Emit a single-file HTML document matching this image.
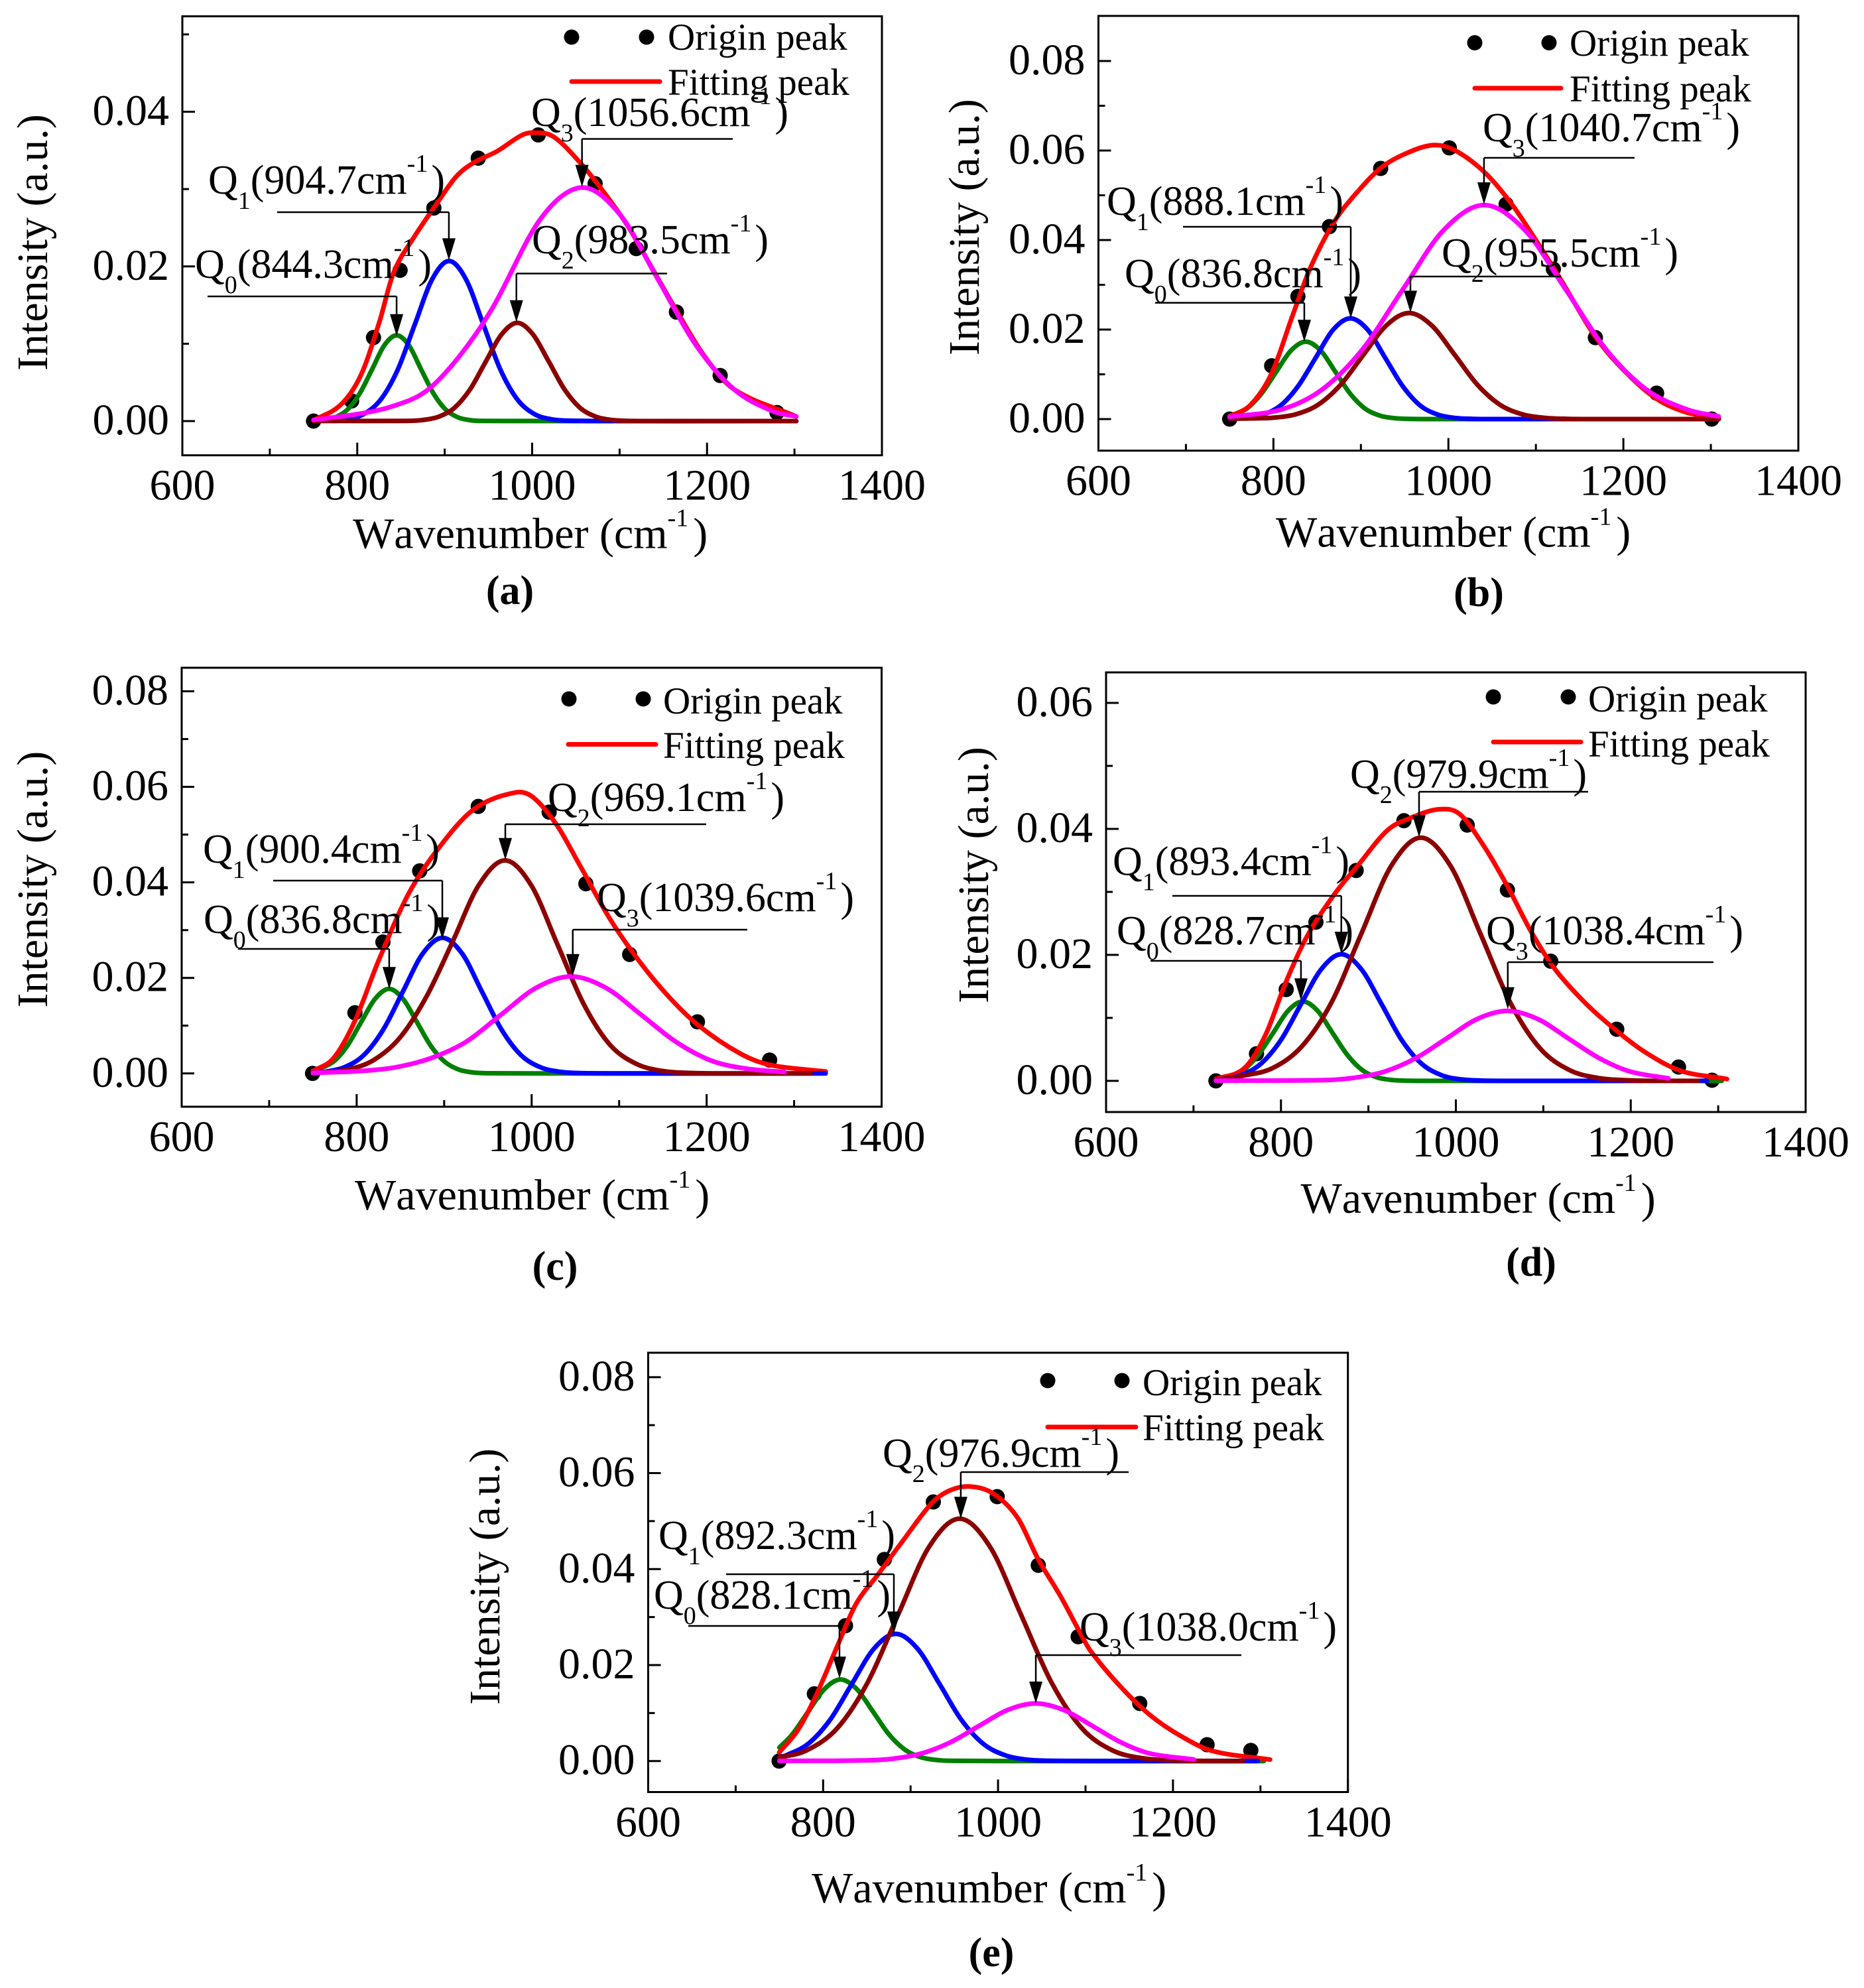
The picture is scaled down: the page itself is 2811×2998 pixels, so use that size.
<!DOCTYPE html>
<html lang="en">
<head>
<meta charset="utf-8">
<title>Raman peak fitting panels (a)-(e)</title>
<style>
  html, body { margin: 0; padding: 0; background: #ffffff; }
  svg { display: block; }
  text { font-family: "Liberation Serif", "Times New Roman", serif; fill: #000000; font-kerning: none; }
</style>
</head>
<body>
<svg id="figure" xmlns="http://www.w3.org/2000/svg" width="2811" height="2998" viewBox="0 0 2811 2998">
  <rect x="0" y="0" width="2811" height="2998" fill="#ffffff"></rect>
</svg>
<script>
/* ---------- shared axis values ---------- */
const xMajorTicks = [600, 800, 1000, 1200, 1400];
const xMinorTicks = [700, 900, 1100, 1300];
const yMajorLong = [0, 0.02, 0.04, 0.06, 0.08];
const yMinorLong = [0.01, 0.03, 0.05, 0.07];
const yMajorA = [0, 0.02, 0.04];
const yMinorA = [0.01, 0.03, 0.05];
const yMajorD = [0, 0.02, 0.04, 0.06];
const yMinorD = [0.01, 0.03, 0.05];

/* ---------- panel (a) ---------- */
const aOriginX = [750, 793.6, 818.6, 849, 887.6, 938.4, 1007, 1072, 1119, 1165, 1215, 1280];
const aOriginY = [0, 0.0026, 0.0108, 0.0195, 0.02755, 0.034, 0.037, 0.0307, 0.0223, 0.0141, 0.0059, 0.0011];
const aFitX = [750, 781, 804, 825, 841.6, 865, 889, 913, 933, 960, 987, 1000, 1024, 1055, 1082, 1109, 1136, 1166, 1197, 1231, 1302];
const aFitY = [0.0001, 0.0021, 0.0059, 0.0127, 0.0192, 0.0238, 0.0278, 0.0316, 0.0334, 0.0349, 0.0369, 0.0373, 0.0368, 0.0334, 0.0296, 0.0253, 0.02, 0.0141, 0.0084, 0.0041, 0.0006];
const aQ0X = [750, 761, 775, 789, 803, 817, 831, 845, 859, 873, 887, 901, 915, 929, 943, 1302];
const aQ0Y = [0.00003, 0.00012, 0.00049, 0.0015, 0.0036, 0.0067, 0.0098, 0.0111, 0.0098, 0.0067, 0.0036, 0.0015, 0.00049, 0.00012, 0.00002, 0];
const aQ1X = [750, 768, 788, 807.5, 827, 846.5, 866, 885.5, 905, 924.5, 944, 963.5, 983, 1002.5, 1022, 1041.5, 1100, 1302];
const aQ1Y = [0.00001, 0.00005, 0.00023, 0.00091, 0.0028, 0.0067, 0.01255, 0.0183, 0.0207, 0.0183, 0.01255, 0.0067, 0.0028, 0.00091, 0.00023, 0.00005, 0, 0];
const aQ2X = [750, 857, 875, 893, 911, 929, 947, 965, 983, 1001, 1019, 1037, 1055, 1073, 1091, 1109, 1150, 1302];
const aQ2Y = [0.00002, 0.00003, 0.00014, 0.00056, 0.0017, 0.0041, 0.0077, 0.0112, 0.0127, 0.0112, 0.0077, 0.0041, 0.0017, 0.00056, 0.00014, 0.00003, 0, 0];
const aQ3X = [750, 800, 840, 879, 917, 955, 1010, 1057, 1100.5, 1144, 1187.5, 1231, 1274.5, 1302];
const aQ3Y = [0.00015, 0.0009, 0.0019, 0.0039, 0.0084, 0.0147, 0.0262, 0.0302, 0.0267, 0.0183, 0.0098, 0.0041, 0.0013, 0.0006];
const aPeakLabels = ["844.3", "904.7", "983.5", "1056.6"];
const aArrowX = [845, 904.8, 982, 1057];
const aArrowY = [0.011, 0.0208, 0.0128, 0.0303];

/* ---------- panel (b) ---------- */
const bOriginX = [750, 798, 828, 864, 922.6, 1001, 1066, 1120, 1168, 1238, 1301];
const bOriginY = [0, 0.0119, 0.0274, 0.043, 0.056, 0.0606, 0.048, 0.0335, 0.0182, 0.0058, 0];
const bFitX = [750, 774, 798, 822, 842, 869.5, 897, 924, 951, 982, 1006, 1040, 1071, 1098, 1129, 1168, 1204, 1238, 1272, 1309];
const bFitY = [0.0006, 0.0032, 0.0102, 0.0232, 0.0337, 0.0441, 0.051, 0.0563, 0.0593, 0.0612, 0.0602, 0.0554, 0.0484, 0.0406, 0.031, 0.0184, 0.0102, 0.0045, 0.0015, 0.0003];
const bQ0X = [750, 769, 786, 803, 820, 837, 854, 871, 888, 905, 922, 939, 956, 1000, 1309];
const bQ0Y = [0.0007, 0.0023, 0.0056, 0.0105, 0.0153, 0.0173, 0.0153, 0.0105, 0.0056, 0.0023, 0.00076, 0.00019, 0.00004, 0, 0];
const bQ1X = [750, 768, 788, 808, 828, 848, 868, 888, 908, 928, 948, 968, 988, 1008, 1028, 1048, 1100, 1309];
const bQ1Y = [0.00006, 0.00025, 0.00099, 0.003, 0.0073, 0.0136, 0.0199, 0.0225, 0.0199, 0.0136, 0.0073, 0.003, 0.00099, 0.00025, 0.00005, 0, 0, 0];
const bQ2X = [750, 773, 799, 825, 851, 877, 903, 929, 955, 981, 1007, 1033, 1059, 1085, 1111, 1137, 1180, 1309];
const bQ2Y = [0.0001, 0.00015, 0.0003, 0.00104, 0.0032, 0.0077, 0.0144, 0.0209, 0.0237, 0.0209, 0.0144, 0.0077, 0.0032, 0.00104, 0.00026, 0.00005, 0, 0];
const bQ3X = [750, 808.5, 855, 901.5, 948, 994.5, 1041, 1087.5, 1134, 1180.5, 1227, 1273.5, 1309];
const bQ3Y = [0.0005, 0.0021, 0.0065, 0.0155, 0.029, 0.0422, 0.0478, 0.0422, 0.029, 0.0155, 0.0065, 0.0021, 0.0006];
const bPeakLabels = ["836.8", "888.1", "955.5", "1040.7"];
const bArrowX = [835.3, 888.4, 956.6, 1040.7];
const bArrowY = [0.0173, 0.0225, 0.0238, 0.048];

/* ---------- panel (c) ---------- */
const cOriginX = [749.6, 798, 830, 872, 939, 1020, 1062, 1112, 1189.5, 1272];
const cOriginY = [0, 0.0127, 0.0275, 0.0424, 0.0559, 0.0547, 0.0397, 0.0249, 0.0108, 0.0028];
const cFitX = [750, 773.6, 798, 825, 859, 893, 934, 981, 1001, 1028, 1055, 1089, 1123, 1157, 1191, 1238, 1272, 1336];
const cFitY = [0.0005, 0.0032, 0.011, 0.0236, 0.0375, 0.047, 0.0553, 0.0588, 0.0579, 0.0522, 0.0436, 0.0325, 0.0235, 0.016, 0.01, 0.0042, 0.0018, 0.0004];
const cQ0X = [750, 773, 789, 805, 821, 837, 853, 869, 885, 901, 917, 933, 949, 1000, 1200];
const cQ0Y = [0.0005, 0.0024, 0.0057, 0.0107, 0.0156, 0.0177, 0.0156, 0.0107, 0.0057, 0.0024, 0.00078, 0.0002, 0.00004, 0, 0];
const cQ1X = [750, 763, 785.5, 808, 830.5, 853, 875.5, 898, 920.5, 943, 965.5, 988, 1010.5, 1033, 1055.5, 1100, 1336];
const cQ1Y = [0.00013, 0.00032, 0.00125, 0.0038, 0.0092, 0.0172, 0.0251, 0.0284, 0.0251, 0.0172, 0.0092, 0.0038, 0.00125, 0.00032, 0.00006, 0, 0];
const cQ2X = [750, 789.5, 819.5, 849.5, 879.5, 909.5, 939.5, 969.5, 999.5, 1029.5, 1059.5, 1089.5, 1119.5, 1149.5, 1179.5, 1220, 1319];
const cQ2Y = [0.00005, 0.0008, 0.0028, 0.0075, 0.016, 0.0275, 0.0394, 0.0446, 0.0394, 0.027, 0.0145, 0.006, 0.002, 0.0005, 0.0001, 0, 0];
const cQ3X = [750, 805, 845, 885, 925, 965, 1005, 1045, 1085, 1125, 1165, 1205, 1245, 1289];
const cQ3Y = [0.0001, 0.0005, 0.0013, 0.0032, 0.0066, 0.0123, 0.0179, 0.0203, 0.0179, 0.0123, 0.0066, 0.0027, 0.001, 0.0003];
const cPeakLabels = ["836.8", "900.4", "969.1", "1039.6"];
const cArrowX = [837.2, 897.9, 969.9, 1047];
const cArrowY = [0.0177, 0.0281, 0.0447, 0.0204];

/* ---------- panel (d) ---------- */
const dOriginX = [725.6, 772, 806, 840, 886, 940.6, 1013, 1059, 1108.5, 1184, 1254.6, 1293];
const dOriginY = [0, 0.0043, 0.0145, 0.0252, 0.0334, 0.0413, 0.0406, 0.0303, 0.019, 0.0082, 0.0022, 0.0001];
const dFitX = [725.6, 758, 782, 806, 830, 861, 888, 922, 949.5, 980, 1004, 1031, 1059, 1086, 1113, 1147, 1181.6, 1216, 1257, 1310];
const dFitY = [0.0003, 0.002, 0.0072, 0.0158, 0.023, 0.0296, 0.0342, 0.0398, 0.0418, 0.0431, 0.0424, 0.0375, 0.0309, 0.0237, 0.0178, 0.0125, 0.0082, 0.0046, 0.0016, 0.0003];
const dQ0X = [725.6, 740, 757, 774, 791, 808, 825, 842, 859, 876, 893, 910, 927, 944, 1000, 1304];
const dQ0Y = [0.00018, 0.00055, 0.0017, 0.0041, 0.0076, 0.0111, 0.0126, 0.0111, 0.0076, 0.0041, 0.0017, 0.00055, 0.00014, 0.00003, 0, 0];
const dQ1X = [725.6, 754, 777, 800, 823, 846, 869, 892, 915, 938, 961, 984, 1007, 1030, 1080, 1287];
const dQ1Y = [0.00015, 0.00088, 0.0027, 0.0065, 0.0122, 0.0177, 0.0201, 0.0177, 0.0122, 0.0065, 0.0027, 0.00088, 0.00022, 0.00004, 0, 0];
const dQ2X = [725.6, 756, 790, 824, 858, 892, 926, 960, 994, 1028, 1062, 1096, 1130, 1164, 1198, 1240, 1277];
const dQ2Y = [0.0001, 0.0008, 0.002, 0.0055, 0.0125, 0.0234, 0.0341, 0.0386, 0.0341, 0.0234, 0.0125, 0.0052, 0.0017, 0.00043, 0.00008, 0, 0];
const dQ3X = [725.6, 849, 884, 919, 954, 989, 1024, 1059, 1094, 1129, 1164, 1199, 1243];
const dQ3Y = [0.00002, 0.00012, 0.0005, 0.0015, 0.0036, 0.0067, 0.0098, 0.0111, 0.0098, 0.0067, 0.0036, 0.0015, 0.0004];
const dPeakLabels = ["828.7", "893.4", "979.9", "1038.4"];
const dArrowX = [822.9, 869, 957.9, 1059.4];
const dArrowY = [0.0128, 0.0202, 0.0387, 0.0114];

/* ---------- panel (e) ---------- */
const eOriginX = [749.7, 790, 825.6, 870, 926, 999, 1046, 1091.6, 1162, 1239, 1289];
const eOriginY = [0, 0.014, 0.0282, 0.042, 0.054, 0.0551, 0.0408, 0.0259, 0.012, 0.0034, 0.0022];
const eFitX = [749.7, 771, 792, 816.6, 837.5, 862, 890, 924.5, 945, 967.7, 994, 1022, 1046, 1071, 1091.6, 1105.6, 1140, 1175, 1210, 1245, 1311];
const eFitY = [0.0018, 0.0064, 0.0137, 0.0241, 0.0327, 0.0387, 0.0456, 0.0538, 0.0564, 0.0572, 0.0558, 0.0508, 0.042, 0.0345, 0.0275, 0.023, 0.0155, 0.0094, 0.0051, 0.0021, 0.0003];
const eQ0X = [750, 764.5, 783, 801.5, 820, 838.5, 857, 875.5, 894, 912.5, 931, 949.5, 1000, 1304];
const eQ0Y = [0.0028, 0.0055, 0.0103, 0.015, 0.017, 0.015, 0.0103, 0.0055, 0.0023, 0.00075, 0.00019, 0.00004, 0, 0];
const eQ1X = [750, 758, 783, 808, 833, 858, 883, 908, 933, 958, 983, 1008, 1033, 1058, 1110, 1297];
const eQ1Y = [0.0008, 0.0012, 0.0036, 0.0086, 0.0161, 0.0234, 0.0265, 0.0234, 0.0161, 0.0086, 0.0036, 0.0012, 0.00029, 0.00006, 0, 0];
const eQ2X = [750, 781, 816, 851, 886, 921, 956, 991, 1026, 1061, 1096, 1131, 1166, 1201, 1240, 1280];
const eQ2Y = [0.0007, 0.0022, 0.0068, 0.0164, 0.0306, 0.0446, 0.0505, 0.0446, 0.0306, 0.0164, 0.0068, 0.0022, 0.00056, 0.00011, 0, 0];
const eQ3X = [750, 848, 880.5, 913, 945.5, 978, 1010.5, 1043, 1075.5, 1108, 1140.5, 1173, 1224];
const eQ3Y = [0.00003, 0.00013, 0.0005, 0.0016, 0.0039, 0.0073, 0.0106, 0.012, 0.0106, 0.0073, 0.0039, 0.0016, 0.0003];
const ePeakLabels = ["828.1", "892.3", "976.9", "1038.0"];
const eArrowX = [818.7, 880.9, 957.4, 1043.2];
const eArrowY = [0.0172, 0.0266, 0.0505, 0.012];

/* ---------- page layout for every panel ---------- */
const layouts = [
  { id: "a", caption: "(a)", L: 275, R: 1330, T: 24.6, B: 686.6, zeroY: 635, perUnit: 11662,
    yMajor: yMajorA, yMinor: yMinorA,
    originX: aOriginX, originY: aOriginY, fitX: aFitX, fitY: aFitY,
    q: [[aQ0X, aQ0Y], [aQ1X, aQ1Y], [aQ2X, aQ2Y], [aQ3X, aQ3Y]],
    peaks: aPeakLabels, arrowX: aArrowX, arrowY: aArrowY,
    yTitle: [71, 559], xTitle: [532, 826.5], cap: [769, 911],
    leg: { d1: 862, d2: 975, dy: 56, tx: 1007, t1: 75, t2: 143, l1: 862, l2: 995, ly: 123 },
    notes: [ { tx: 294, ty: 419, x1: 313, ly: 447 }, { tx: 314, ty: 292, x1: 418, ly: 320 },
             { tx: 802, ty: 382, x2: 1006, ly: 412.5 }, { tx: 801, ty: 190, x2: 1105, ly: 209.5 } ] },
  { id: "b", caption: "(b)", L: 1656.5, R: 2712, T: 24, B: 679.6, zeroY: 632, perUnit: 6750,
    yMajor: yMajorLong, yMinor: yMinorLong,
    originX: bOriginX, originY: bOriginY, fitX: bFitX, fitY: bFitY,
    q: [[bQ0X, bQ0Y], [bQ1X, bQ1Y], [bQ2X, bQ2Y], [bQ3X, bQ3Y]],
    peaks: bPeakLabels, arrowX: bArrowX, arrowY: bArrowY,
    yTitle: [1476, 536], xTitle: [1924, 824.5], cap: [2230, 914],
    leg: { d1: 2224, d2: 2336, dy: 64.5, tx: 2367, t1: 84, t2: 153, l1: 2224, l2: 2354, ly: 133 },
    notes: [ { tx: 1696, ty: 433, x1: 1742, ly: 456.6 }, { tx: 1669, ty: 324, x1: 1784, ly: 342 },
             { tx: 2174, ty: 402, x2: 2354, ly: 417 }, { tx: 2236, ty: 213, x2: 2465, ly: 238 } ] },
  { id: "c", caption: "(c)", L: 274, R: 1329.5, T: 1007, B: 1669, zeroY: 1618.75, perUnit: 7203,
    yMajor: yMajorLong, yMinor: yMinorLong,
    originX: cOriginX, originY: cOriginY, fitX: cFitX, fitY: cFitY,
    q: [[cQ0X, cQ0Y], [cQ1X, cQ1Y], [cQ2X, cQ2Y], [cQ3X, cQ3Y]],
    peaks: cPeakLabels, arrowX: cArrowX, arrowY: cArrowY,
    yTitle: [71, 1519.5], xTitle: [535, 1824], cap: [837, 1930],
    leg: { d1: 858, d2: 970, dy: 1054, tx: 1000, t1: 1076, t2: 1143, l1: 857, l2: 989, ly: 1122.5 },
    notes: [ { tx: 307, ty: 1407, x1: 359, ly: 1431 }, { tx: 306, ty: 1301, x1: 412, ly: 1328 },
             { tx: 826, ty: 1223, x2: 1065, ly: 1243 }, { tx: 900, ty: 1374, x2: 1127, ly: 1402 } ] },
  { id: "d", caption: "(d)", L: 1668, R: 2723, T: 1014, B: 1677, zeroY: 1630, perUnit: 9500,
    yMajor: yMajorD, yMinor: yMinorD,
    originX: dOriginX, originY: dOriginY, fitX: dFitX, fitY: dFitY,
    q: [[dQ0X, dQ0Y], [dQ1X, dQ1Y], [dQ2X, dQ2Y], [dQ3X, dQ3Y]],
    peaks: dPeakLabels, arrowX: dArrowX, arrowY: dArrowY,
    yTitle: [1490, 1513], xTitle: [1961.5, 1829], cap: [2309, 1924],
    leg: { d1: 2252, d2: 2365, dy: 1051, tx: 2395, t1: 1073, t2: 1141, l1: 2252, l2: 2384, ly: 1119 },
    notes: [ { tx: 1684, ty: 1424, x1: 1735, ly: 1449 }, { tx: 1678, ty: 1319.5, x1: 1768, ly: 1351 },
             { tx: 2036, ty: 1188, x2: 2395, ly: 1194 }, { tx: 2241, ty: 1424, x2: 2584, ly: 1451 } ] },
  { id: "e", caption: "(e)", L: 977.5, R: 2032.7, T: 2040, B: 2702.5, zeroY: 2655.7, perUnit: 7236,
    yMajor: yMajorLong, yMinor: yMinorLong,
    originX: eOriginX, originY: eOriginY, fitX: eFitX, fitY: eFitY,
    q: [[eQ0X, eQ0Y], [eQ1X, eQ1Y], [eQ2X, eQ2Y], [eQ3X, eQ3Y]],
    peaks: ePeakLabels, arrowX: eArrowX, arrowY: eArrowY,
    yTitle: [753, 2571], xTitle: [1224, 2869], cap: [1495, 2965],
    leg: { d1: 1580, d2: 1692, dy: 2082, tx: 1723, t1: 2104, t2: 2172, l1: 1580, l2: 1713, ly: 2152 },
    notes: [ { tx: 986, ty: 2426, x1: 1038, ly: 2452 }, { tx: 993, ty: 2336, x1: 1095, ly: 2374 },
             { tx: 1331, ty: 2212, x2: 1702, ly: 2220 }, { tx: 1628, ty: 2474, x2: 1872, ly: 2496 } ] }
];

const SVG_NS = "http://www.w3.org/2000/svg";
const root = document.getElementById("figure");
const qColors = ["#007f00", "#0000ff", "#8b0000", "#ff00ff"];
const qNames = ["q0", "q1", "q2", "q3"];

function make(tag, attrs, parent, name) {
  const el = document.createElementNS(SVG_NS, tag);
  for (const k in attrs) el.setAttribute(k, attrs[k]);
  
  
  parent.appendChild(el);
  return el;
}

function addSpan(textEl, content, size, dy, dx) {
  const s = document.createElementNS(SVG_NS, "tspan");
  if (size) s.setAttribute("font-size", size);
  if (dy) s.setAttribute("dy", dy);
  if (dx) s.setAttribute("dx", dx);
  s.textContent = content;
  textEl.appendChild(s);
}

/* Catmull-Rom through the sampled points */
function smoothPath(px, py) {
  let d = "M" + px[0].toFixed(1) + " " + py[0].toFixed(1);
  for (let i = 0; i < px.length - 1; i++) {
    const i0 = Math.max(i - 1, 0), i3 = Math.min(i + 2, px.length - 1);
    const h = px[i + 1] - px[i];
    const m1 = (py[i + 1] - py[i0]) / Math.max(px[i + 1] - px[i0], 1e-6);
    const m2 = (py[i3] - py[i]) / Math.max(px[i3] - px[i], 1e-6);
    const c1x = px[i] + h / 3, c1y = py[i] + m1 * h / 3;
    const c2x = px[i + 1] - h / 3, c2y = py[i + 1] - m2 * h / 3;
    d += "C" + c1x.toFixed(1) + " " + c1y.toFixed(1) + " " + c2x.toFixed(1) + " " + c2y.toFixed(1) + " " + px[i + 1].toFixed(1) + " " + py[i + 1].toFixed(1);
  }
  return d;
}

function drawPanel(p) {
  const g = make("g", {}, root, "panel-" + p.id);
  const sx = v => p.L + (v - 600) * (p.R - p.L) / 800;
  const sy = v => p.zeroY - v * p.perUnit;

  /* origin points */
  const dots = make("g", { fill: "#000000" }, g, "origin-peak-points");
  p.originX.forEach((v, i) => {
    make("circle", { cx: sx(v), cy: sy(p.originY[i]), r: 11.5 }, dots, "origin-point");
  });

  /* curves: green, fit, blue, dark red, magenta */
  const curveStyle = { fill: "none", "stroke-width": 7, "stroke-linejoin": "round", "stroke-linecap": "round" };
  function curve(xs, ys, color, name) {
    const attrs = Object.assign({}, curveStyle, { stroke: color, d: smoothPath(xs.map(sx), ys.map(sy)) });
    make("path", attrs, g, name);
  }
  curve(p.q[0][0], p.q[0][1], qColors[0], "peak-curve-q0");
  curve(p.fitX, p.fitY, "#ff0000", "fitting-peak-curve");
  for (let i = 1; i < 4; i++) {
    curve(p.q[i][0], p.q[i][1], qColors[i], "peak-curve-" + qNames[i]);
  }

  /* frame */
  make("rect", { x: p.L, y: p.T, width: p.R - p.L, height: p.B - p.T, fill: "none", stroke: "#000000", "stroke-width": 3 }, g, "plot-frame");

  /* x ticks */
  const xAxis = make("g", { stroke: "#000000", "stroke-width": 3 }, g, "x-axis");
  const xLabels = make("g", { "font-size": 66, "text-anchor": "middle" }, g, "x-tick-labels");
  xMajorTicks.forEach(v => {
    make("line", { x1: sx(v), x2: sx(v), y1: p.B, y2: p.B - 19 }, xAxis, "x-major-tick");
    const t = make("text", { x: sx(v), y: p.B + 67 }, xLabels, "x-tick-label");
    t.textContent = String(v);
  });
  xMinorTicks.forEach(v => {
    make("line", { x1: sx(v), x2: sx(v), y1: p.B, y2: p.B - 10 }, xAxis, "x-minor-tick");
  });

  /* y ticks */
  const yAxis = make("g", { stroke: "#000000", "stroke-width": 3 }, g, "y-axis");
  const yLabels = make("g", { "font-size": 66, "text-anchor": "end" }, g, "y-tick-labels");
  p.yMajor.forEach(v => {
    make("line", { x1: p.L, x2: p.L + 19, y1: sy(v), y2: sy(v) }, yAxis, "y-major-tick");
    const t = make("text", { x: p.L - 20, y: sy(v) + 20 }, yLabels, "y-tick-label");
    t.textContent = v.toFixed(2);
  });
  p.yMinor.forEach(v => {
    make("line", { x1: p.L, x2: p.L + 10, y1: sy(v), y2: sy(v) }, yAxis, "y-minor-tick");
  });

  /* axis titles */
  const yt = make("text", { "font-size": 66, transform: "translate(" + p.yTitle[0] + " " + p.yTitle[1] + ") rotate(-90)" }, g, "y-axis-title");
  yt.textContent = "Intensity (a.u.)";
  const xt = make("text", { "font-size": 66, x: p.xTitle[0], y: p.xTitle[1] }, g, "x-axis-title");
  addSpan(xt, "Wavenumber (cm");
  addSpan(xt, "-1", 38, -33);
  addSpan(xt, ")", null, 33, 7);

  /* caption */
  const cap = make("text", { "font-size": 62, "font-weight": "bold", "text-anchor": "middle", x: p.cap[0], y: p.cap[1] }, g, "panel-caption");
  cap.textContent = p.caption;

  /* legend */
  const lg = p.leg;
  const legend = make("g", { "font-size": 57 }, g, "legend");
  make("circle", { cx: lg.d1, cy: lg.dy, r: 11.5, fill: "#000000" }, legend, "legend-origin-marker-left");
  make("circle", { cx: lg.d2, cy: lg.dy, r: 11.5, fill: "#000000" }, legend, "legend-origin-marker-right");
  const l1 = make("text", { x: lg.tx, y: lg.t1 }, legend, "legend-origin-label");
  l1.textContent = "Origin peak";
  make("line", { x1: lg.l1, x2: lg.l2, y1: lg.ly, y2: lg.ly, stroke: "#ff0000", "stroke-width": 7, "stroke-linecap": "round" }, legend, "legend-fitting-line");
  const l2 = make("text", { x: lg.tx, y: lg.t2 }, legend, "legend-fitting-label");
  l2.textContent = "Fitting peak";

  /* peak annotations */
  p.notes.forEach((n, i) => {
    const a = make("g", {}, g, "annotation-" + qNames[i]);
    const ax = sx(p.arrowX[i]);
    const tip = sy(p.arrowY[i]);
    const top = tip - 33;
    const lx1 = n.x1 !== undefined ? n.x1 : ax;
    const lx2 = n.x2 !== undefined ? n.x2 : ax;
    make("polyline", { points: lx1 + "," + n.ly + " " + lx2 + "," + n.ly, stroke: "#000000", "stroke-width": 2.5, fill: "none" }, a, "leader-horizontal");
    make("line", { x1: ax, x2: ax, y1: n.ly, y2: top + 2, stroke: "#000000", "stroke-width": 2.5 }, a, "leader-vertical");
    make("polygon", { points: (ax - 10) + "," + top + " " + (ax + 10) + "," + top + " " + ax + "," + tip, fill: "#000000" }, a, "arrow-head");
    const t = make("text", { "font-size": 62, x: n.tx, y: n.ty }, a, "peak-label");
    addSpan(t, "Q");
    addSpan(t, String(i), 38, 23);
    addSpan(t, "(" + p.peaks[i] + "cm", null, -23);
    addSpan(t, "-1", 38, -33);
    addSpan(t, ")", null, 33, 5);
  });
}

layouts.forEach(drawPanel);
</script>
</body>
</html>
